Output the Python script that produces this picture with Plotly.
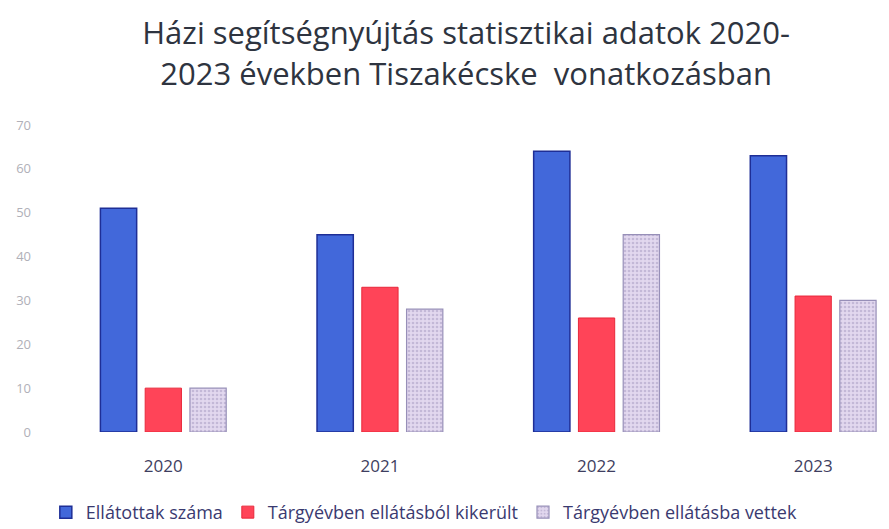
import plotly.graph_objects as go

years = ["2020", "2021", "2022", "2023"]
ellatottak = [51, 45, 64, 63]
kikerult = [10, 33, 26, 31]
vettek = [10, 28, 45, 30]
y_ticks = [0, 10, 20, 30, 40, 50, 60, 70]

names = ["Ellátottak száma", "Tárgyévben ellátásból kikerült", "Tárgyévben ellátásba vettek"]

fig = go.Figure()
fig.add_trace(go.Bar(x=years, y=ellatottak, name=names[0],
                     marker=dict(color="#4268DA", line=dict(color="#1E2E96", width=1.5))))
fig.add_trace(go.Bar(x=years, y=kikerult, name=names[1],
                     marker=dict(color="#FF4458", line=dict(color="#E8283A", width=1))))
fig.add_trace(go.Bar(x=years, y=vettek, name=names[2],
                     marker=dict(color="#DCD0EC", line=dict(color="#978FB8", width=1.2),
                                 pattern=dict(shape=".", fgcolor="#A397C0", bgcolor="#E2D8EF",
                                              size=4, solidity=0.35))))

fig.update_layout(
    width=881, height=521,
    paper_bgcolor="white", plot_bgcolor="white",
    margin=dict(l=47, r=0, t=117, b=97, autoexpand=False),
    barmode="group", bargap=0.38, bargroupgap=0.19,
    title=dict(text="Házi segítségnyújtás statisztikai adatok 2020-<br>2023 években Tiszakécske  vonatkozásban",
               x=0.52, xanchor="center", y=0.93, yanchor="middle", automargin=False,
               font=dict(family="Open Sans, Lato, sans-serif", size=31, color="#2E3440")),
    font=dict(family="Open Sans, Lato, sans-serif"),
    xaxis=dict(range=[-0.5, 3.35], showgrid=False, showline=False, ticks="", automargin=False,
               tickfont=dict(size=17, color="#3E3E60"), ticklabelstandoff=22),
    yaxis=dict(range=[0, 70], tickvals=y_ticks, showgrid=False, showline=False, zeroline=False,
               automargin=False, tickfont=dict(size=13, color="#B0B0B8"), ticklabelstandoff=23),
    legend=dict(orientation="h", x=-0.011, xanchor="left", y=-0.262, yanchor="middle",
                font=dict(size=18, color="#3A3A70"), itemwidth=30,
                traceorder="normal"),
)

fig.write_html("out.html")
